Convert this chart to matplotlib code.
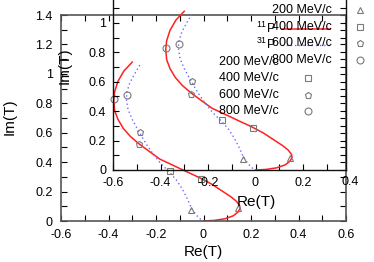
import numpy as np
import matplotlib
matplotlib.use('Agg')
import matplotlib.pyplot as plt
from matplotlib.lines import Line2D
from matplotlib.ticker import MultipleLocator, FuncFormatter
import matplotlib.transforms as mtransforms

plt.rcParams['font.family'] = ['Liberation Sans', 'DejaVu Sans']
plt.rcParams['mathtext.fontset'] = 'custom'
plt.rcParams['mathtext.rm'] = 'Liberation Sans'

# red solid curve (11P), Re(T), Im(T)
red_re = [-0.300, -0.335, -0.360, -0.374, -0.378, -0.374, -0.360, -0.338, -0.308, -0.272,
          -0.230, -0.183, -0.130, -0.075, -0.015, 0.035, 0.082, 0.115, 0.138, 0.152,
          0.154, 0.145, 0.125, 0.090, 0.045, 0.000]
red_im = [1.080, 1.020, 0.950, 0.880, 0.820, 0.750, 0.690, 0.630, 0.575, 0.525,
          0.475, 0.420, 0.380, 0.338, 0.293, 0.250, 0.200, 0.165, 0.135, 0.105,
          0.085, 0.060, 0.035, 0.015, 0.004, 0.000]

# blue dotted curve (31P)
blue_re = [-0.268, -0.290, -0.310, -0.322, -0.325, -0.318, -0.300, -0.280, -0.262, -0.240,
           -0.212, -0.180, -0.145, -0.115, -0.090, -0.068, -0.050, -0.030, -0.005]
blue_im = [1.060, 1.000, 0.940, 0.880, 0.830, 0.760, 0.690, 0.630, 0.580, 0.520,
           0.455, 0.390, 0.335, 0.280, 0.220, 0.150, 0.085, 0.040, 0.000]

# points at 200, 400, 600, 800 MeV/c
momenta = [200, 400, 600, 800]
mkinds = ['^', 's', 'p', 'o']
red_pt_re = [0.145, -0.012, -0.272, -0.376]
red_pt_im = [0.085, 0.287, 0.520, 0.830]
blue_pt_re = [-0.053, -0.140, -0.267, -0.323]
blue_pt_im = [0.078, 0.340, 0.603, 0.857]

W, H = 374, 262
fig = plt.figure(figsize=(W / 100, H / 100), dpi=100)

def fx(px):
    return px / W

def fy(py):
    return 1 - py / H

ax = fig.add_axes([fx(61), fy(221), (346 - 61) / W, (221 - 15) / H])
ax2 = fig.add_axes([fx(113), fy(170), (346 - 113) / W, 170 / H])
ax2.set_facecolor('none')

fmt = FuncFormatter(lambda v, p: '%g' % round(v, 2))

for a in (ax, ax2):
    a.plot(red_re, red_im, color='#ff2020', lw=1.1)
    a.plot(blue_re, blue_im, color='#6a6aff', lw=1.0, linestyle=(0, (1, 2)))
    for i in range(len(momenta)):
        a.plot(red_pt_re[i], red_pt_im[i], marker=mkinds[i], ms=5, mfc='none',
               mec='#7a7a7a', mew=0.8, ls='none')
        a.plot(blue_pt_re[i], blue_pt_im[i], marker=mkinds[i], ms=5, mfc='none',
               mec='#7a7a7a', mew=0.8, ls='none')
    a.xaxis.set_major_locator(MultipleLocator(0.2))
    a.xaxis.set_minor_locator(MultipleLocator(0.1))
    a.yaxis.set_major_locator(MultipleLocator(0.2))
    a.yaxis.set_minor_locator(MultipleLocator(0.1))
    a.xaxis.set_major_formatter(fmt)
    a.yaxis.set_major_formatter(fmt)

ax.set_xlim(-0.6, 0.6)
ax.set_ylim(0, 1.4)
ax.tick_params(which='both', direction='in', top=True, right=True, length=4,
               width=0.8, labelsize=9, pad=6)
for s in ax.spines.values():
    s.set_color('#555555')
    s.set_linewidth(1.2)

ax2.set_xlim(-0.6, -0.6 + 233 / 237.5)
ax2.set_ylim(0, 170 / 147)
ax2.tick_params(which='both', direction='in', top=False, right=True, length=4,
                width=0.8, labelsize=9, pad=5)
ax2.spines['top'].set_visible(False)
for s in ['left', 'bottom', 'right']:
    ax2.spines[s].set_color('#111111')
    ax2.spines[s].set_linewidth(1.0)
# 0.4 label sits just past the inset frame
tr = mtransforms.blended_transform_factory(ax2.transData, ax2.transAxes)
ax2.text(0.4, -0.072, '0.4', transform=tr, ha='center', va='center', fontsize=9, clip_on=False)

# axis labels
fig.text(fx(10), fy(117), 'Im(T)', rotation=90, ha='center', va='center', fontsize=11)
fig.text(fx(203), fy(252), 'Re(T)', ha='center', va='center', fontsize=11)
fig.text(fx(65), fy(66), 'Im(T)', rotation=90, ha='center', va='center', fontsize=11)
fig.text(fx(256), fy(202), 'Re(T)', ha='center', va='center', fontsize=11)

# key at top right
rows_top = [10, 27, 43, 60]
for i in range(len(momenta)):
    fig.text(fx(332), fy(rows_top[i]), '%d MeV/c' % momenta[i], ha='right', va='center', fontsize=9)
    fig.add_artist(Line2D([fx(360)], [fy(rows_top[i])], marker=mkinds[i], ms=5, mfc='none',
                          mec='#7a7a7a', mew=0.8, transform=fig.transFigure))

fig.text(fx(276), fy(28), r'$^{11}$P', ha='right', va='center', fontsize=9)
fig.text(fx(276), fy(44), r'$^{31}$P', ha='right', va='center', fontsize=9)
fig.add_artist(Line2D([fx(282), fx(330)], [fy(29), fy(29)], color='#ff2020', lw=1.1,
                      transform=fig.transFigure))
fig.add_artist(Line2D([fx(282), fx(330)], [fy(45), fy(45)], color='#6a6aff', lw=1.0,
                      linestyle=(0, (1, 2)), transform=fig.transFigure))

# key inside the inset
rows_in = [62, 78, 95, 111]
for i in range(len(momenta)):
    fig.text(fx(279), fy(rows_in[i]), '%d MeV/c' % momenta[i], ha='right', va='center', fontsize=9)
    if i > 0:
        fig.add_artist(Line2D([fx(308)], [fy(rows_in[i])], marker=mkinds[i], ms=5, mfc='none',
                              mec='#7a7a7a', mew=0.8, transform=fig.transFigure))

fig.savefig('out.png', dpi=100)
